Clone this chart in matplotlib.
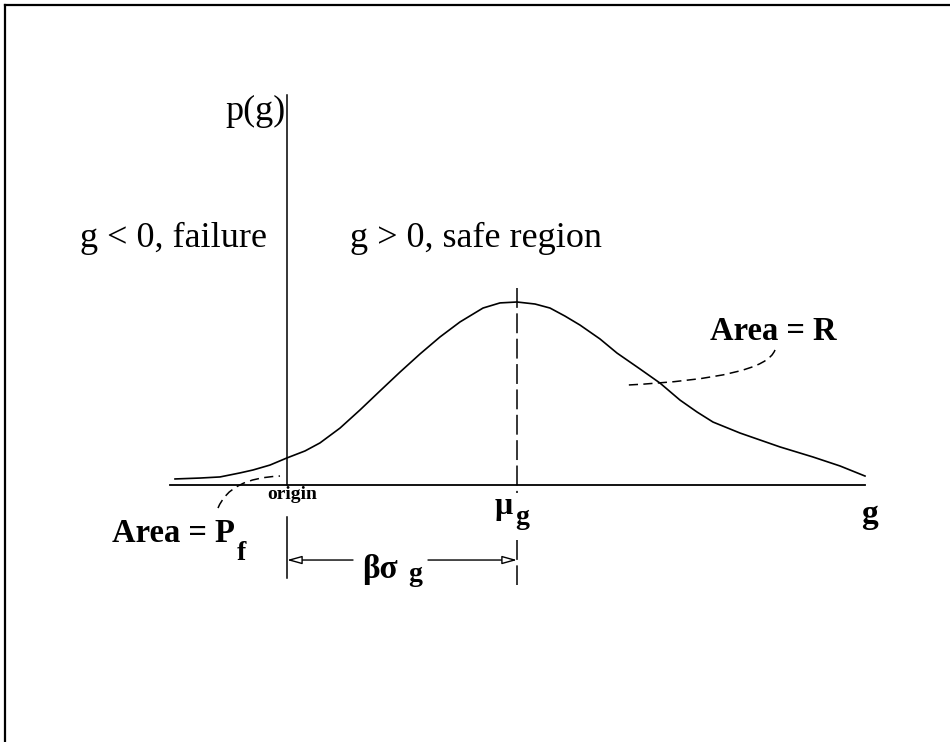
import matplotlib
matplotlib.use('Agg')
import matplotlib.pyplot as plt
from matplotlib.path import Path
from matplotlib.patches import PathPatch
from matplotlib.lines import Line2D

plt.rcParams['font.family'] = ['Liberation Serif', 'DejaVu Serif']

# density curve p(g) (g in units, p normalised to peak = 1)
g_vals = [-1.12, -0.87, -0.67, -0.47, -0.34, -0.17, 0.00, 0.18, 0.33, 0.53,
          0.73, 0.93, 1.13, 1.33, 1.53, 1.73, 1.96, 2.13, 2.30, 2.48,
          2.63, 2.78, 2.93, 3.13, 3.30, 3.53, 3.73, 3.93, 4.10, 4.26,
          4.53, 4.93, 5.26, 5.53, 5.78]
p_vals = [0.033, 0.038, 0.044, 0.066, 0.082, 0.109, 0.148, 0.186, 0.230, 0.311,
          0.410, 0.514, 0.617, 0.716, 0.809, 0.891, 0.967, 0.995, 1.000, 0.989,
          0.967, 0.923, 0.874, 0.798, 0.721, 0.634, 0.557, 0.464, 0.399, 0.344,
          0.284, 0.208, 0.153, 0.104, 0.049]

mu_g = 2.30          # mean of g
g_axis = [-1.17, 5.78]
p_axis_top = 2.13

# leader lines (quadratic curves) for the two area labels
pf_leader = [(-0.69, -0.126), (-0.57, 0.038), (-0.07, 0.049)]
r_leader = [(4.88, 0.738), (4.78, 0.585), (3.40, 0.546)]

fig = plt.figure(figsize=(9.5, 7.42), dpi=100)
ax = fig.add_axes([0, 0, 1, 1])
ax.set_xlim(-2.87, 6.63)
ax.set_ylim(-1.4044, 2.6503)
ax.axis('off')

# frame (top and left edges only, as in the scan)
fig.add_artist(Line2D([0.0053, 0.0053], [0.0, 0.9933], color='black', lw=1.6))
fig.add_artist(Line2D([0.0053, 1.0], [0.9933, 0.9933], color='black', lw=1.6))

# axes
ax.plot(g_axis, [0, 0], color='black', lw=1.3)
ax.plot([0, 0], [0, p_axis_top], color='black', lw=1.1)
ax.plot([0, 0], [-0.175, -0.508], color='black', lw=1.1)

# curve
ax.plot(g_vals, p_vals, color='black', lw=1.2, solid_joinstyle='round')

# mean line
ax.plot([mu_g, mu_g], [1.077, -0.044], color='black', lw=1.1, dashes=(13, 3.6))
ax.plot([mu_g, mu_g], [-0.301, -0.546], color='black', lw=1.1, dashes=(13, 3.6))

# beta*sigma arrow
arr_y = -0.41
astyle = dict(arrowstyle='-|>,head_length=0.9,head_width=0.25', color='black',
              fc='white', lw=1.0, shrinkA=0, shrinkB=0)
ax.annotate('', xy=(0, arr_y), xytext=(0.66, arr_y), arrowprops=astyle)
ax.annotate('', xy=(mu_g, arr_y), xytext=(1.41, arr_y), arrowprops=astyle)

# leaders
for pts in (pf_leader, r_leader):
    path = Path(pts, [Path.MOVETO, Path.CURVE3, Path.CURVE3])
    ax.add_patch(PathPatch(path, fill=False, color='black', lw=1.1,
                           linestyle=(0, (6, 3.5))))

# labels
ax.text(-0.01, 1.995, 'p(g)', fontsize=26, ha='right', va='baseline')
ax.text(-0.20, 1.30, 'g < 0, failure', fontsize=26, ha='right', va='baseline')
ax.text(0.63, 1.30, 'g > 0, safe region', fontsize=26, ha='left', va='baseline')
ax.text(4.23, 0.792, 'Area = R', fontsize=23.5, fontweight='bold', ha='left', va='baseline')
ax.text(-0.52, -0.311, 'Area = P', fontsize=23.5, fontweight='bold', ha='right', va='baseline')
ax.text(-0.50, -0.41, 'f', fontsize=20, fontweight='bold', ha='left', va='baseline')
ax.text(0.05, -0.077, 'origin', fontsize=14, fontweight='bold', ha='center', va='baseline')
ax.text(2.08, -0.158, 'μ', fontsize=23, fontweight='bold', ha='left', va='baseline')
ax.text(2.28, -0.213, 'g', fontsize=20, fontweight='bold', ha='left', va='baseline')
ax.text(0.75, -0.508, 'βσ', fontsize=24, fontweight='bold', ha='left', va='baseline')
ax.text(1.21, -0.525, 'g', fontsize=20, fontweight='bold', ha='left', va='baseline')
ax.text(5.83, -0.208, 'g', fontsize=24, fontweight='bold', ha='center', va='baseline')

fig.savefig('out.png', dpi=100)
